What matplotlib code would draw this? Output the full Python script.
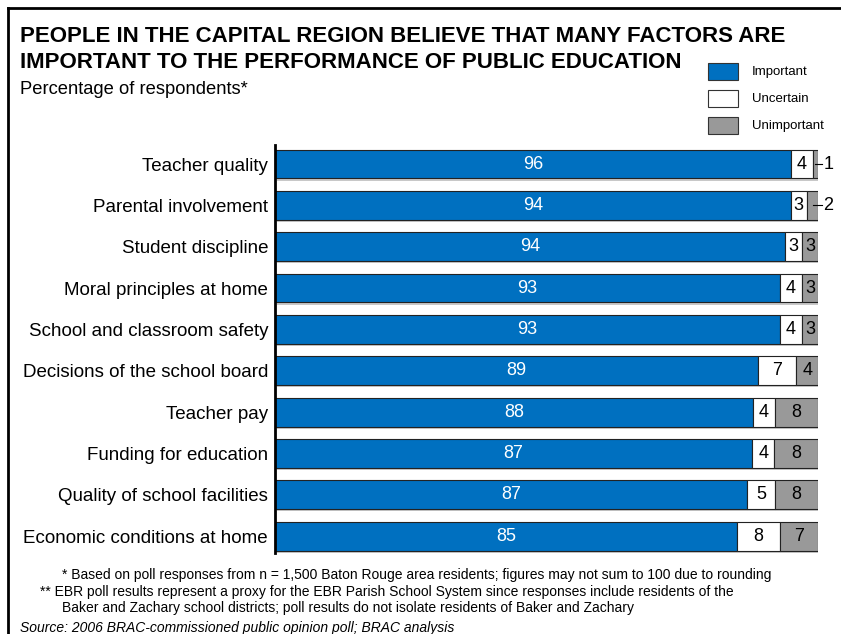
import matplotlib.pyplot as plt
import matplotlib.patheffects as pe
from matplotlib.patches import Rectangle
from matplotlib.lines import Line2D
import numpy as np

plt.rcParams["font.family"] = ["Liberation Sans", "DejaVu Sans"]

categories = [
    "Teacher quality",
    "Parental involvement",
    "Student discipline",
    "Moral principles at home",
    "School and classroom safety",
    "Decisions of the school board",
    "Teacher pay",
    "Funding for education",
    "Quality of school facilities",
    "Economic conditions at home",
]
important = [96, 94, 94, 93, 93, 89, 88, 87, 87, 85]
uncertain = [4, 3, 3, 4, 4, 7, 4, 4, 5, 8]
unimportant = [1, 2, 3, 3, 3, 4, 8, 8, 8, 7]

series = [
    ("Important", important, "#0070C0", "white"),
    ("Uncertain", uncertain, "#FFFFFF", "black"),
    ("Unimportant", unimportant, "#999999", "black"),
]

W, H = 841, 634
fig = plt.figure(figsize=(W / 100, H / 100), dpi=100)


def fx(px):
    return px / W


def fy(py):
    return 1 - py / H


# outer frame (top and left edges only)
fig.add_artist(Line2D([fx(8), 1], [fy(8), fy(8)], color="black", lw=2))
fig.add_artist(Line2D([fx(8), fx(8)], [fy(8), 0], color="black", lw=2))

ax = fig.add_axes([fx(275), fy(553), fx(818) - fx(275), fy(145) - fy(553)])

totals = np.array(important) + np.array(uncertain) + np.array(unimportant)
y = np.arange(len(categories))
left = np.zeros(len(categories))
shadow = [pe.SimplePatchShadow(offset=(1.5, -1.5), shadow_rgbFace="#c8c8c8", alpha=1), pe.Normal()]

for name, vals, color, tcolor in series:
    share = np.array(vals) / totals * 100
    bars = ax.barh(y, share, left=left, height=0.7, color=color,
                   edgecolor="#222222", linewidth=0.8)
    for b in bars:
        b.set_path_effects(shadow)
    for i, (v, w) in enumerate(zip(vals, share)):
        cx = left[i] + w / 2
        if v <= 2:
            ax.plot([cx, 100.8], [i, i], color="black", lw=0.8, clip_on=False)
            ax.text(101.0, i, str(v), ha="left", va="center", fontsize=13,
                    color="black", clip_on=False)
        else:
            ax.text(cx, i, str(v), ha="center", va="center", fontsize=13, color=tcolor)
    left += share

ax.set_xlim(0, 100)
ax.set_ylim(9.41, -0.46)
ax.set_yticks(y)
ax.set_yticklabels(categories, fontsize=13.5)
ax.tick_params(axis="y", length=0, pad=5)
ax.set_xticks([])
for s in ["top", "right", "bottom"]:
    ax.spines[s].set_visible(False)
ax.spines["left"].set_linewidth(2)

# title block
fig.text(fx(20), fy(37), "PEOPLE IN THE CAPITAL REGION BELIEVE THAT MANY FACTORS ARE",
         fontsize=16, fontweight="bold", va="center", ha="left")
fig.text(fx(20), fy(62), "IMPORTANT TO THE PERFORMANCE OF PUBLIC EDUCATION",
         fontsize=16, fontweight="bold", va="center", ha="left")
fig.text(fx(20), fy(89), "Percentage of respondents*", fontsize=13.2, va="center", ha="left")

# legend
for k, (name, vals, color, tcolor) in enumerate(series):
    top = 63 + k * 27
    fig.add_artist(Rectangle((fx(708), fy(top + 17)), fx(30), fy(top) - fy(top + 17),
                             facecolor=color, edgecolor="#333333", lw=0.8))
    fig.text(fx(752), fy(top + 8.5), name, fontsize=9.5, va="center", ha="left")

# notes
fig.text(fx(62), fy(575), "* Based on poll responses from n = 1,500 Baton Rouge area residents; "
         "figures may not sum to 100 due to rounding", fontsize=10, va="center")
fig.text(fx(40), fy(592), "** EBR poll results represent a proxy for the EBR Parish School System "
         "since responses include residents of the", fontsize=10, va="center")
fig.text(fx(62), fy(608), "Baker and Zachary school districts; poll results do not isolate "
         "residents of Baker and Zachary", fontsize=10, va="center")
fig.text(fx(20), fy(628), "Source: 2006 BRAC-commissioned public opinion poll; BRAC analysis",
         fontsize=10, style="italic", va="center")

fig.savefig("out.png", dpi=100)
